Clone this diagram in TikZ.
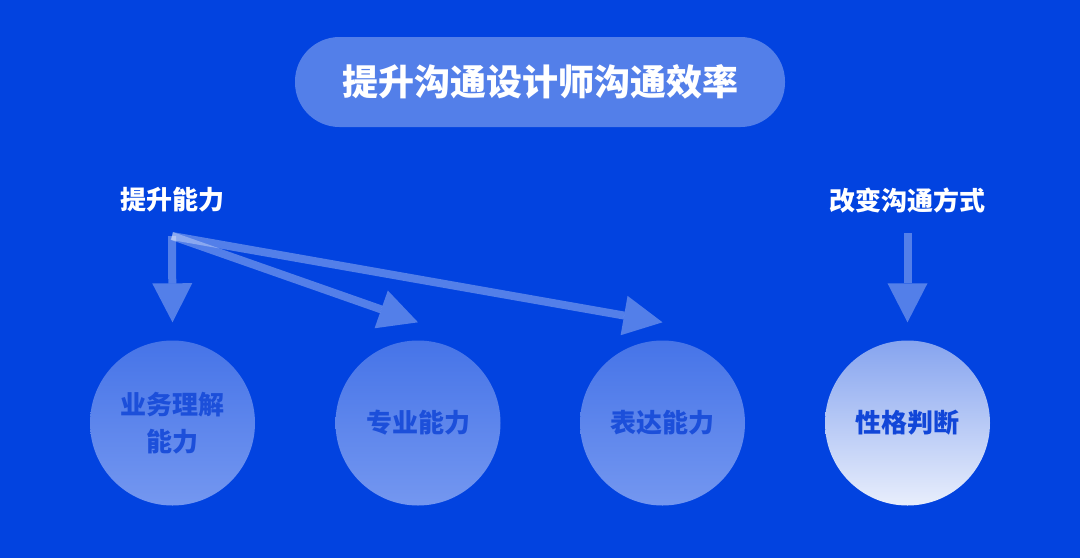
\documentclass[tikz,border=0pt]{standalone}
\usepackage{fontspec}
\newfontfamily\cjk{Noto Sans CJK SC}
\usetikzlibrary{arrows.meta}
\definecolor{bgblue}{HTML}{0243E0}
\definecolor{ctop}{HTML}{4674E8}
\definecolor{cbot}{HTML}{7497F0}
\definecolor{ftop}{HTML}{86A4EF}
\definecolor{fbot}{HTML}{E8EEFC}
\definecolor{ctext}{HTML}{1C4FDA}
\definecolor{ftext}{HTML}{1146D8}
\tikzset{
  pill/.style={rectangle, rounded corners=44.5pt, minimum width=490pt, minimum height=90pt,
    fill=white, fill opacity=0.32, text opacity=1, text=white,
    font=\cjk\bfseries\fontsize{36}{42}\selectfont, inner sep=0pt},
  lab/.style={text=white, font=\cjk\bfseries\fontsize{26}{30}\selectfont, inner sep=0pt},
  ball/.style={circle, minimum size=165pt, inner sep=0pt, top color=ctop, bottom color=cbot,
    text=ctext, align=center, font=\cjk\bfseries\fontsize{26}{37}\selectfont},
  fball/.style={ball, top color=ftop, bottom color=fbot, text=ftext},
  arr/.style={draw=white, draw opacity=0.32, fill opacity=0.32, line width=8pt,
    -{Triangle[width=40pt,length=39pt,line width=0pt]}}
}
\begin{document}
\begin{tikzpicture}[x=1pt,y=-1pt]
\fill[bgblue] (0,0) rectangle (1080,558);
\useasboundingbox (0,0) rectangle (1080,558);
\node[pill] (title) at (540,82) {提升沟通设计师沟通效率};
\node[lab] (l1) at (172,200) {提升能力};
\node[lab] (l2) at (907,200) {改变沟通方式};
\node[ball] (c1) at (172.5,423) {业务理解\\能力};
\node[ball] (c2) at (418,423) {专业能力};
\node[ball] (c3) at (662.5,423) {表达能力};
\node[fball] (c4) at (907.5,423) {性格判断};
\coordinate (s1) at (172,236);
\coordinate (s2) at (907.5,233);
\coordinate (t1) at ([yshift=18pt]c1.north);
\coordinate (t2) at ([yshift=18pt]c2.north);
\coordinate (t3) at ([yshift=18pt]c3.north);
\coordinate (t4) at ([yshift=18pt]c4.north);
\draw[arr] (s1) -- (t1);
\draw[arr] (s1) -- (t2);
\draw[arr] (s1) -- (t3);
\draw[arr] (s2) -- (t4);
\end{tikzpicture}
\end{document}
